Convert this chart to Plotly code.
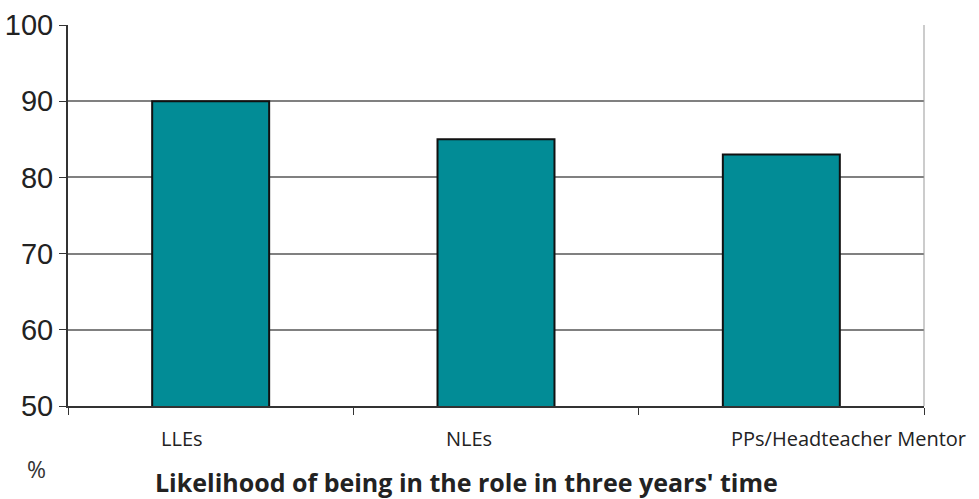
import plotly.graph_objects as go

categories = ["LLEs", "NLEs", "PPs/Headteacher Mentor"]
values = [90, 85, 83]
y_ticks = [50, 60, 70, 80, 90, 100]

fig = go.Figure()
fig.add_trace(go.Bar(
    x=categories, y=values,
    width=0.41,
    marker=dict(color="#028C96", line=dict(color="#111111", width=2)),
))

for c in categories:
    fig.add_annotation(x=c, xref="x", y=0, yref="paper", text=c, showarrow=False,
                       xanchor="left", yanchor="top", xshift=-52, yshift=-17,
                       font=dict(family="Open Sans", size=20, color="#222222"))

fig.add_annotation(x=0, xref="paper", y=0, yref="paper", text="%", showarrow=False,
                   xanchor="center", yanchor="top", xshift=-32, yshift=-45,
                   font=dict(family="Open Sans", size=23, color="#333333"))

fig.add_annotation(x=0.465, xref="paper", y=0, yref="paper",
                   text="<b>Likelihood of being in the role in three years' time</b>",
                   showarrow=False, xanchor="center", yanchor="top", yshift=-57,
                   font=dict(family="Open Sans", size=25, color="#222222"))

fig.add_shape(type="line", xref="paper", yref="paper", x0=1, x1=1, y0=0, y1=1,
              line=dict(color="#999999", width=1))

fig.update_layout(
    width=979, height=499,
    margin=dict(l=68, r=55, t=25, b=93),
    paper_bgcolor="white", plot_bgcolor="white",
    showlegend=False,
    xaxis=dict(type="category", range=[-0.5, 2.5], autorange=False, automargin=False,
               tickson="boundaries", ticks="outside", ticklen=7,
               tickcolor="#333333", showticklabels=False, showgrid=False,
               showline=True, linecolor="#333333", linewidth=2),
    yaxis=dict(range=[50, 100], tickvals=y_ticks, ticks="outside", ticklen=7,
               automargin=False,
               tickcolor="#333333", showline=True, linecolor="#333333", linewidth=2,
               showgrid=True, gridcolor="#808080", gridwidth=1.5, zeroline=False,
               tickfont=dict(family="Liberation Sans, Arial", size=29, color="#222222")),
)

fig.write_html("out.html")
